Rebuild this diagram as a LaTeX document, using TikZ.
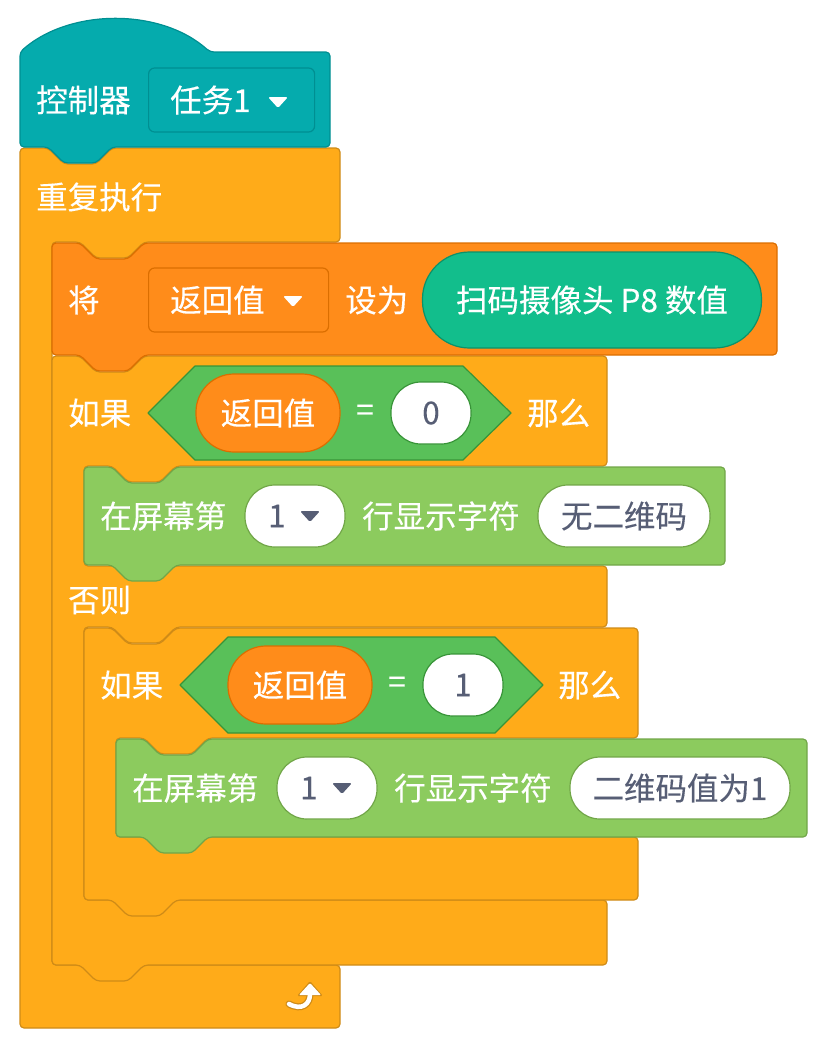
\documentclass[tikz,border=0pt]{standalone}
\usepackage{fontspec}
\setmainfont{Noto Sans CJK SC}[FakeBold=0.25]
\usepackage{tikz}
\usetikzlibrary{calc}

\definecolor{hatfill}{RGB}{5,171,173}
\definecolor{hatedge}{RGB}{0,143,146}
\definecolor{ctrlfill}{RGB}{255,171,25}
\definecolor{ctrledge}{RGB}{207,139,23}
\definecolor{varfill}{RGB}{255,140,26}
\definecolor{varedge}{RGB}{219,110,0}
\definecolor{opfill}{RGB}{89,192,89}
\definecolor{opedge}{RGB}{56,148,56}
\definecolor{dispfill}{RGB}{140,203,94}
\definecolor{dispedge}{RGB}{113,166,72}
\definecolor{camfill}{RGB}{18,190,140}
\definecolor{camedge}{RGB}{11,146,106}
\definecolor{pilltext}{RGB}{87,94,117}

\newcommand{\blockfont}{\fontsize{31.5}{36}\selectfont}
% notch on a top edge / tab on a bottom edge, both drop 16 units
\newcommand{\topnotch}[2]{-- ({#1+28},{#2}) -- ({#1+44},{#2+16}) -- ({#1+76},{#2+16}) -- ({#1+92},{#2})}
\newcommand{\bottab}[2]{-- ({#1+92},{#2}) -- ({#1+76},{#2+16}) -- ({#1+44},{#2+16}) -- ({#1+28},{#2})}
% small dropdown triangle, top-left corner given
\newcommand{\ddtri}[3]{\fill[#3, rounded corners=1.5pt] (#1,#2) -- ++(20,0) -- ++(-10,11) -- cycle;}

\begin{document}
\begin{tikzpicture}[
		x=1pt, y=-1pt,
		line join=round,
		blk/.style={line width=1.2pt, rounded corners=4pt},
		txt/.style={text=white, font=\blockfont, inner sep=0pt, anchor=west},
		pill/.style={font=\blockfont, inner sep=0pt, line width=1.2pt, text=pilltext, fill=white, rounded corners=30pt, minimum height=62pt},
		rep/.style={font=\blockfont, inner sep=0pt, line width=1.2pt, text=white, fill=varfill, draw=varedge, rounded corners=38pt, minimum height=78pt, minimum width=144pt},
		dd/.style={inner sep=0pt, line width=1.2pt, rounded corners=6pt, minimum height=64pt, anchor=west}
		]
		
		\useasboundingbox (0,0) rectangle (828,1050);
		
		% ---------- Forever block ----------
		\draw[blk, fill=ctrlfill, draw=ctrledge] (20,148) \topnotch{20}{148} -- (340,148) -- (340,242)
		\bottab{52}{242} -- (52,242) -- (52,965) -- (340,965) -- (340,1028) -- (20,1028) -- cycle;
		\node[txt] (loop) at (36,197) {重复执行};
		% loop arrow
		\draw[ctrledge, line width=7pt, line cap=round] (289,1004) .. controls (302,1011) and (310,1004) .. (310,994);
		\fill[ctrledge, rounded corners=1.5pt] (297,996) -- (310,981) -- (323,996) -- cycle;
		\draw[white, line width=4.5pt, line cap=round] (289,1004) .. controls (302,1011) and (310,1004) .. (310,994);
		\fill[white, rounded corners=1pt] (299,995) -- (310,983) -- (321,995) -- cycle;
		
		% ---------- Hat block ----------
		\draw[blk, fill=hatfill, draw=hatedge] (20,147) -- (20,52) .. controls (70,8) and (161,8) .. (210,52)
		-- (330,52) -- (330,147) \bottab{20}{147} -- cycle;
		\node[txt] (ctrl) at (36,100) {控制器};
		\node[dd, fill=hatfill, draw=hatedge, minimum width=166pt] (taskbox) at (148,100) {};
		\node[txt] (task) at (170,100) {任务1};
		\ddtri{268}{97}{white}
		
		% ---------- If / else block ----------
		\draw[blk, fill=ctrlfill, draw=ctrledge] (52,356) \topnotch{52}{356} -- (607,356) -- (607,466)
		\bottab{84}{466} -- (84,466) -- (84,566) -- (607,566) -- (607,627)
		\bottab{84}{627} -- (84,627) -- (84,900) -- (607,900) -- (607,965)
		\bottab{52}{965} -- (52,965) -- cycle;
		\node[txt] (if1) at (68,413) {如果};
		\node[txt] (then1) at (527,413) {那么};
		\node[txt] (else) at (68,600) {否则};
		\draw[line width=1.2pt, fill=opfill, draw=opedge] (148,413) -- (195,366) -- (463,366) -- (511,413) -- (463,460) -- (195,460) -- cycle;
		\node[rep] (ret1) at (268,413) {返回值};
		\node[txt, anchor=center] (eq1) at (365,413) {=};
		\node[pill, draw=opedge, minimum width=80pt] (zero) at (431,413) {0};
		
		% ---------- Set block ----------
		\draw[blk, fill=varfill, draw=varedge] (52,243) \topnotch{52}{243} -- (777,243) -- (777,355)
		\bottab{52}{355} -- (52,355) -- cycle;
		\node[txt] (set) at (68,300) {将};
		\node[dd, fill=varfill, draw=varedge, minimum width=180pt] (varbox) at (148,300) {};
		\node[txt] (var) at (170,300) {返回值};
		\ddtri{283}{296}{white}
		\node[txt] (to) at (345,300) {设为};
		\node[font=\blockfont, inner sep=0pt, line width=1.2pt, text=white, fill=camfill, draw=camedge,
		rounded corners=47pt, minimum height=96pt, minimum width=339pt] (cam) at (592,300) {扫码摄像头 P8 数值};
		
		% ---------- Display block (first branch) ----------
		\draw[blk, fill=dispfill, draw=dispedge] (84,467) \topnotch{84}{467} -- (725,467) -- (725,565)
		\bottab{84}{565} -- (84,565) -- cycle;
		\node[txt] (show1) at (100,516) {在屏幕第};
		\node[pill, draw=dispedge, minimum width=100pt] (line1box) at (295,516) {};
		\node[txt, text=pilltext] (line1) at (268,516) {1};
		\ddtri{300}{511}{pilltext}
		\node[txt] (str1) at (362,516) {行显示字符};
		\node[pill, draw=dispedge, minimum width=172pt] (msg1) at (624,516) {无二维码};
		
		% ---------- Nested if block ----------
		\draw[blk, fill=ctrlfill, draw=ctrledge] (84,628) \topnotch{84}{628} -- (638,628) -- (638,738)
		\bottab{116}{738} -- (116,738) -- (116,837) -- (638,837) -- (638,900)
		\bottab{84}{900} -- (84,900) -- cycle;
		\node[txt] (if2) at (100,685) {如果};
		\node[txt] (then2) at (558,685) {那么};
		\draw[line width=1.2pt, fill=opfill, draw=opedge] (180,685) -- (228,637) -- (495,637) -- (543,685) -- (495,733) -- (228,733) -- cycle;
		\node[rep] (ret2) at (300,685) {返回值};
		\node[txt, anchor=center] (eq2) at (397,685) {=};
		\node[pill, draw=opedge, minimum width=80pt] (one) at (463,685) {1};
		
		% ---------- Display block (second branch) ----------
		\draw[blk, fill=dispfill, draw=dispedge] (116,739) \topnotch{116}{739} -- (807,739) -- (807,837)
		\bottab{116}{837} -- (116,837) -- cycle;
		\node[txt] (show2) at (132,788) {在屏幕第};
		\node[pill, draw=dispedge, minimum width=100pt] (line2box) at (327,788) {};
		\node[txt, text=pilltext] (line2) at (300,788) {1};
		\ddtri{332}{783}{pilltext}
		\node[txt] (str2) at (394,788) {行显示字符};
		\node[pill, draw=dispedge, minimum width=220pt] (msg2) at (680,788) {二维码值为1};
		
	\end{tikzpicture}
\end{document}
